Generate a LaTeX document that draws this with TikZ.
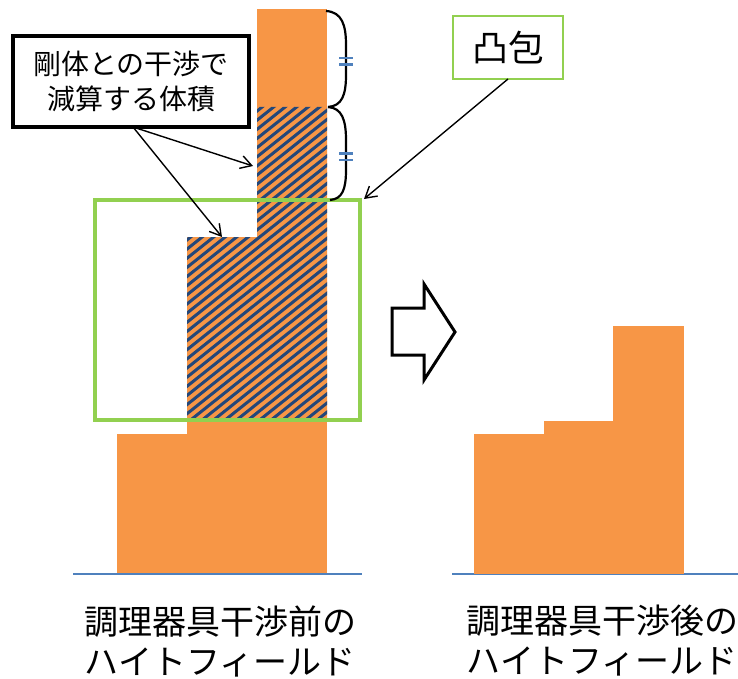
\documentclass[tikz,border=0pt]{standalone}
\usepackage{fontspec}
\setmainfont{Noto Sans CJK JP}
\usetikzlibrary{arrows.meta}
\definecolor{bar}{HTML}{F79646}
\definecolor{stripe}{HTML}{23477A}
\definecolor{hullgreen}{HTML}{92D050}
\definecolor{axisblue}{HTML}{4F81BD}
\tikzset{
  barfill/.style={fill=bar, draw=none},
  axisline/.style={draw=axisblue, line width=2pt},
  pointer/.style={draw=black, line width=1.4pt, -{Straight Barb[length=11pt,width=13pt,line width=1.4pt]}},
  bracestyle/.style={draw=black, line width=2.2pt},
  eqmark/.style={draw=axisblue, line width=2.2pt},
  labelbox/.style={draw=black, line width=4pt, fill=white, minimum width=236pt, minimum height=91pt, align=center, inner sep=0pt, font=\fontsize{28}{35}\selectfont},
  hullbox/.style={draw=hullgreen, line width=1.6pt, fill=white, minimum width=110pt, minimum height=63pt, inner sep=0pt, font=\fontsize{36}{40}\selectfont},
  caption/.style={align=center, inner sep=0pt, font=\fontsize{34}{40}\selectfont}
}
\begin{document}
\begin{tikzpicture}[x=1pt,y=-1pt]
\useasboundingbox (0,0) rectangle (738,679);
% ---------- left height field ----------
\fill[bar] (117,434) rectangle (188,574);
\fill[bar] (187,420) rectangle (327,574);
\fill[bar] (257,9) rectangle (327,108);
% hatched region
\begin{scope}
  \clip (187,237) -- (257,237) -- (257,107) -- (327,107) -- (327,420) -- (187,420) -- cycle;
  \fill[bar] (180,100) rectangle (340,430);
  \foreach \i in {0,...,50}
    \draw[stripe, line width=3pt] (-260+\i*11.5,440) -- ++(440,-350);
\end{scope}
% convex hull box
\draw[hullgreen, line width=3.5pt] (95,200) rectangle (360,420);
% braces
\draw[bracestyle] (326,11) .. controls (342,12) and (346,25) .. (346,45)
  -- (346,75) .. controls (346,95) and (342,106) .. (328,107);
\draw[bracestyle] (328,107) .. controls (342,108) and (346,120) .. (346,140)
  -- (346,170) .. controls (346,190) and (342,199) .. (330,200);
\draw[eqmark] (339,58) -- (353,58) (339,64.5) -- (353,64.5);
\draw[eqmark] (339,153.5) -- (353,153.5) (339,160) -- (353,160);
% baselines
\draw[axisline] (73,574) -- (362,574);
\draw[axisline] (452,574) -- (738,574);
% ---------- right height field ----------
\fill[bar] (474,434) rectangle (545,574);
\fill[bar] (544,421) rectangle (614,574);
\fill[bar] (613,326) rectangle (684,574);
% ---------- big hollow arrow ----------
\draw[black, line width=3pt, line join=miter, fill=white]
  (392,308) -- (424,308) -- (424,284) -- (455,332) -- (424,380) -- (424,355) -- (392,355) -- cycle;
% ---------- labels ----------
\node[labelbox] (lbl) at (131,81.5) {剛体との干渉で\\減算する体積};
\node[hullbox] (hull) at (508,47.5) {凸包};
\coordinate (t1) at (253,166);
\coordinate (t2) at (222,237);
\coordinate (t3) at (364,199);
\coordinate (s1) at (133,127);
\coordinate (s3) at (508,79);
\draw[pointer] (s1) -- (t1);
\draw[pointer] (s1) -- (t2);
\draw[pointer] (s3) -- (t3);
\node[caption] (capL) at (220,641) {調理器具干渉前の\\ハイトフィールド};
\node[caption] (capR) at (602,641) {調理器具干渉後の\\ハイトフィールド};
\end{tikzpicture}
\end{document}
